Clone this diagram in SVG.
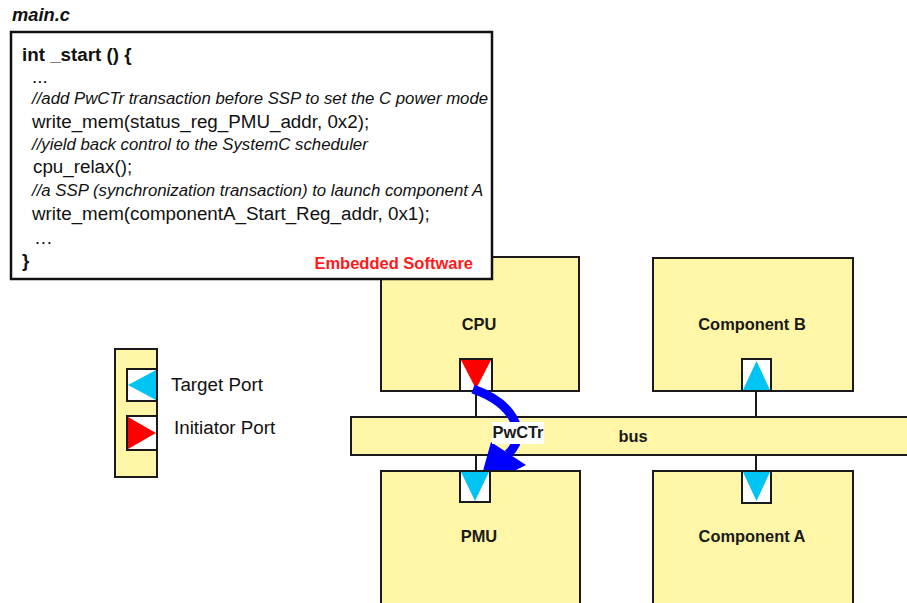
<svg xmlns="http://www.w3.org/2000/svg" width="907" height="603" viewBox="0 0 907 603">
  <style>
    .blk { fill: #FFF6A8; stroke: #1a1a1a; stroke-width: 2; }
    .port { fill: #ffffff; stroke: #1a1a1a; stroke-width: 2; }
    .tgt { fill: #00C4F4; }
    .ini { fill: #FF0000; }
    .lbl { font-family: "Liberation Sans", Arial, sans-serif; font-weight: bold; font-size: 16.4px; fill: #1a1a1a; text-anchor: middle; }
    .code { font-family: "Liberation Sans", Arial, sans-serif; font-size: 18.8px; fill: #111; }
    .cmt { font-family: "Liberation Sans", Arial, sans-serif; font-size: 16.8px; font-style: italic; fill: #111; }
    .leg { font-family: "Liberation Sans", Arial, sans-serif; font-size: 18.8px; fill: #111; }
    .wire { stroke: #1a1a1a; stroke-width: 2; fill: none; }
  </style>

  <g id="bus">
    <rect class="blk" x="351" y="417" width="570" height="38"/>
    <text class="lbl" x="633" y="442" font-size="18.5">bus</text>
  </g>

  <g id="connectors">
    <line class="wire" x1="476" y1="391" x2="476" y2="417"/>
    <line class="wire" x1="476" y1="455" x2="476" y2="471"/>
    <line class="wire" x1="756" y1="391" x2="756" y2="417"/>
    <line class="wire" x1="756" y1="455" x2="756" y2="471"/>
  </g>

  <g id="cpu">
    <rect class="blk" x="381" y="257" width="198" height="134"/>
    <text class="lbl" x="479" y="330">CPU</text>
    <rect class="port" x="460" y="359" width="32" height="32"/>
    <polygon class="ini" points="461,360 491,360 476,389"/>
  </g>

  <g id="component-b">
    <rect class="blk" x="653" y="258" width="200" height="133"/>
    <text class="lbl" x="752" y="330">Component B</text>
    <rect class="port" x="742" y="359" width="29" height="32"/>
    <polygon class="tgt" points="743,390 770,390 756.5,361"/>
  </g>

  <g id="pwctr">
    <path d="M 473 389 Q 510 402 517 428 Q 520 443 508 454" fill="none" stroke="#0000FF" stroke-width="9"/>
    <polygon points="491,442 526,465 478,489" fill="#0000FF"/>
    <rect x="492" y="422" width="52" height="22" fill="#ffffff"/>
    <text class="lbl" x="518" y="438">PwCTr</text>
  </g>

  <g id="pmu">
    <rect class="blk" x="381" y="471" width="199" height="145"/>
    <text class="lbl" x="479" y="542">PMU</text>
    <rect class="port" x="460" y="471" width="30" height="31"/>
    <polygon class="tgt" points="461,472 489,472 475,501"/>
  </g>

  <g id="component-a">
    <rect class="blk" x="653" y="471" width="200" height="145"/>
    <text class="lbl" x="752" y="542">Component A</text>
    <rect class="port" x="742" y="471" width="29" height="32"/>
    <polygon class="tgt" points="743,472 770,472 756.5,501"/>
  </g>

  <g id="legend">
    <rect class="blk" x="115" y="349" width="42" height="128"/>
    <rect class="port" x="127" y="369" width="30" height="32"/>
    <polygon class="tgt" points="156,370 156,400 128,385"/>
    <rect class="port" x="127" y="416" width="30" height="34"/>
    <polygon class="ini" points="128,417 128,449 156,433"/>
    <text class="leg" x="171" y="391">Target Port</text>
    <text class="leg" x="174" y="434">Initiator Port</text>
  </g>

  <g id="main-c">
    <text x="12" y="21" font-family="'Liberation Sans', Arial, sans-serif" font-size="18.3" font-weight="bold" font-style="italic" fill="#111">main.c</text>
    <rect x="11" y="32" width="481" height="247" fill="#ffffff" stroke="#111" stroke-width="2.5"/>
    <text class="code" x="22" y="61" font-weight="bold">int _start () {</text>
    <text class="code" x="32" y="83" font-size="14">...</text>
    <text class="cmt" x="32" y="104">//add PwCTr transaction before SSP to set the C power mode</text>
    <text class="code" x="32" y="128">write_mem(status_reg_PMU_addr, 0x2);</text>
    <text class="cmt" x="32" y="150">//yield back control to the SystemC scheduler</text>
    <text class="code" x="33" y="173">cpu_relax();</text>
    <text class="cmt" x="32" y="196">//a SSP (synchronization transaction) to launch component A</text>
    <text class="code" x="32" y="220">write_mem(componentA_Start_Reg_addr, 0x1);</text>
    <text class="code" x="34" y="244">…</text>
    <text class="code" x="22" y="267" font-weight="bold">}</text>
    <text x="473" y="269" text-anchor="end" font-family="'Liberation Sans', Arial, sans-serif" font-size="16.5" font-weight="bold" fill="#FF1A1A">Embedded Software</text>
  </g>
</svg>
